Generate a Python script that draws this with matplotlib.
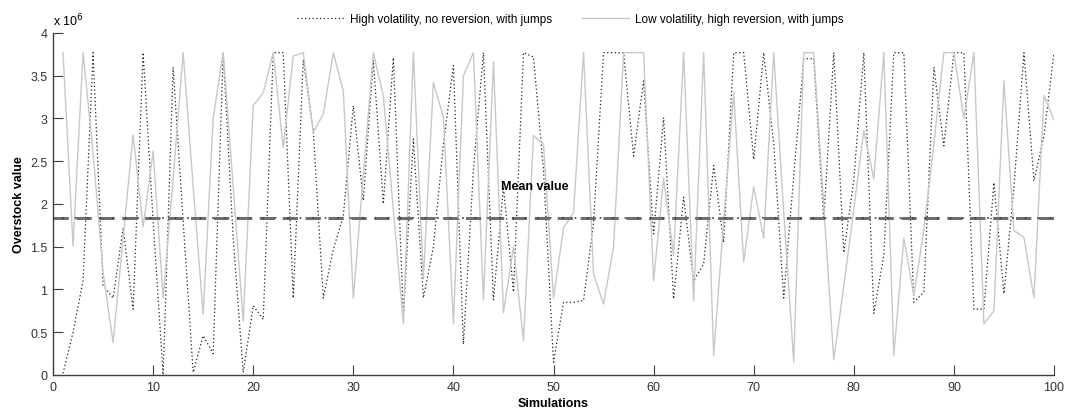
import numpy as np
import matplotlib
matplotlib.use('Agg')
import matplotlib.pyplot as plt

plt.rcParams['font.family'] = ['Liberation Sans', 'DejaVu Sans']

# values in units of 1e6
simulations = list(range(1, 101))
high_vol = [0.02, 0.5, 1.1, 3.77, 1.05, 0.9, 1.72, 0.77, 3.77, 1.8,
            0.0, 3.6, 1.8, 0.03, 0.46, 0.25, 3.77, 1.6, 0.03, 0.81,
            0.65, 3.77, 3.77, 0.9, 3.69, 2.85, 0.9, 1.47, 1.86, 3.15,
            2.04, 3.68, 2.0, 3.71, 0.69, 2.76, 0.9, 1.5, 2.7, 3.62,
            0.36, 2.4, 3.77, 0.88, 2.2, 0.97, 3.77, 3.72, 2.4, 0.15,
            0.85, 0.85, 0.87, 1.78, 3.77, 3.77, 3.77, 2.56, 3.44, 1.65,
            3.01, 0.89, 2.08, 1.1, 1.3, 2.45, 1.55, 3.77, 3.77, 2.52,
            3.77, 2.7, 0.9, 2.33, 3.7, 3.7, 1.82, 3.77, 1.43, 2.28,
            3.77, 0.72, 1.4, 3.77, 3.77, 0.85, 0.97, 3.6, 2.68, 3.77,
            3.77, 0.77, 0.77, 2.25, 0.95, 2.2, 3.77, 2.27, 2.8, 3.77]
low_vol = [3.77, 1.51, 3.77, 2.6, 1.2, 0.38, 1.6, 2.81, 1.73, 2.62,
           0.9, 2.3, 3.77, 2.2, 0.71, 3.0, 3.77, 2.2, 0.63, 3.15,
           3.3, 3.77, 2.66, 3.73, 3.77, 2.84, 3.05, 3.77, 3.32, 0.9,
           2.34, 3.77, 3.26, 1.93, 0.6, 3.77, 1.12, 3.42, 3.02, 0.6,
           3.5, 3.77, 0.88, 3.66, 0.73, 1.5, 0.4, 2.8, 2.7, 0.9,
           1.72, 1.9, 3.77, 1.18, 0.83, 1.5, 3.77, 3.77, 3.77, 1.1,
           2.3, 1.4, 3.77, 0.87, 3.77, 0.23, 1.8, 3.3, 1.32, 2.2,
           1.6, 3.77, 1.9, 0.15, 3.77, 3.77, 1.98, 0.18, 1.04, 1.94,
           2.86, 2.29, 3.77, 0.23, 1.6, 0.93, 1.7, 2.7, 3.77, 3.77,
           3.0, 3.77, 0.6, 0.75, 3.44, 1.69, 1.61, 0.9, 3.27, 2.98]
mean_value = 1.84

x_ticks = list(range(0, 101, 10))
y_ticks = [0, 0.5, 1, 1.5, 2, 2.5, 3, 3.5, 4]
y_tick_labels = ['0', '0.5', '1', '1.5', '2', '2.5', '3', '3.5', '4']

fig = plt.figure(figsize=(10.67, 4.14), dpi=100)
ax = fig.add_axes([0.0497, 0.0918, 0.9381, 0.8261])

ax.plot(simulations, high_vol, color='#202020', linestyle=(0, (1, 2)), linewidth=0.9,
        label='High volatility, no reversion, with jumps')
ax.plot(simulations, low_vol, color='#c8c8c8', linestyle='-', linewidth=1.0,
        label='Low volatility, high reversion, with jumps')

ax.plot([0, 100], [mean_value, mean_value], color='#6e6e6e', linestyle=(0, (5, 2.5)), linewidth=2.2)
ax.plot([0, 100], [mean_value, mean_value], color='#2a3a6a', linestyle=(2, (1, 6.5)), linewidth=1.2)
ax.text(44.8, 2.21, 'Mean value', fontsize=9, fontweight='bold', ha='left', va='center')

ax.set_xlim(0, 100)
ax.set_ylim(0, 4)
ax.set_xticks(x_ticks)
ax.set_yticks(y_ticks)
ax.set_yticklabels(y_tick_labels)
ax.tick_params(direction='in', length=7, labelsize=9, color='#404040',
               labelcolor='#333333', pad=4)
ax.spines['top'].set_visible(False)
ax.spines['right'].set_visible(False)
for s in ['left', 'bottom']:
    ax.spines[s].set_color('#404040')
    ax.spines[s].set_linewidth(1.0)

ax.text(0.0, 1.015, r'x 10$^{6}$', transform=ax.transAxes, fontsize=9, ha='left', va='bottom')
ax.set_xlabel('Simulations', fontsize=9, fontweight='bold', labelpad=3)
ax.set_ylabel('Overstock value', fontsize=9, fontweight='bold', labelpad=4)

ax.legend(loc='lower center', bbox_to_anchor=(0.517, 1.0), ncol=2, frameon=False,
          fontsize=8.5, handlelength=4, columnspacing=2.5, handletextpad=0.5, borderaxespad=0.3)

fig.savefig('out.png', dpi=100)
